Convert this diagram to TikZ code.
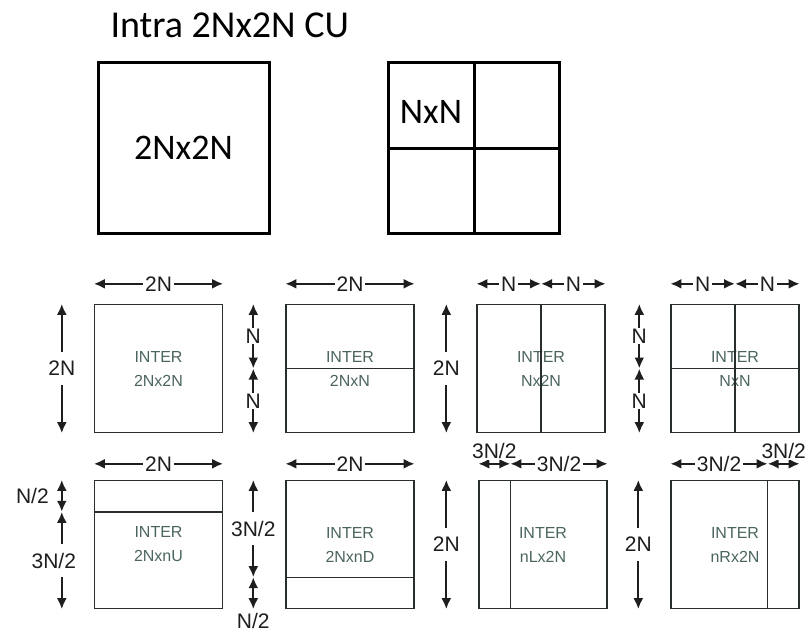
\documentclass[tikz,border=0pt]{standalone}
\usepackage{fontspec}
\setmainfont{Liberation Sans}
\newfontfamily\calibri{Carlito}
\usetikzlibrary{arrows.meta,positioning}
\definecolor{boxgray}{RGB}{40,45,45}
\definecolor{intertxt}{RGB}{75,100,95}
\definecolor{dimtxt}{RGB}{30,30,30}

\begin{document}
\begin{tikzpicture}[x=1pt, y=-1pt,
    intra/.style={draw, line width=3pt, minimum size=171pt, inner sep=0pt, font=\calibri\fontsize{36}{40}\selectfont},
    cu/.style={draw=boxgray, line width=1.4pt, minimum size=128pt, inner sep=0pt, align=center, text=intertxt, font=\fontsize{16}{24}\selectfont},
    split/.style={draw=boxgray, line width=1.4pt},
    dim/.style={draw=dimtxt, {Latex[length=11pt,width=10pt]}-{Latex[length=11pt,width=10pt]}, line width=2.2pt},
    lbl/.style={fill=white, text=dimtxt, inner xsep=2pt, inner ysep=1pt, font=\fontsize{21}{21}\selectfont},
    vlbl/.style={lbl, inner ysep=9pt}]
    \useasboundingbox (0,0) rectangle (811,638);

    % Intra CU
    \node [anchor=base west, font=\calibri\fontsize{38}{42}\selectfont] (title) at (107,37) {Intra 2Nx2N CU};
    \node [intra] (intra1) at (183.5,148) {2Nx2N};
    \node [intra] (intra2) at (474,148) {};
    \draw [line width=3pt] (intra2.north) -- (intra2.south);
    \draw [line width=3pt] (intra2.west) -- (intra2.east);
    \node [font=\calibri\fontsize{36}{40}\selectfont] (nxn) at (431,112) {NxN};

    % Inter CUs
    \node [cu] (b1) at (158.5,368.5) {INTER\\2Nx2N};
    \node [cu] (b2) at (350,368.5) {INTER\\2NxN};
    \node [cu] (b3) at (541,368.5) {INTER\\Nx2N};
    \node [cu] (b4) at (735,368.5) {INTER\\NxN};
    \node [cu] (b5) at (158.5,544.5) {INTER\\2NxnU};
    \node [cu] (b6) at (350,544.5) {INTER\\2NxnD};
    \node [cu] (b7) at (543,544.5) {INTER\\nLx2N};
    \node [cu] (b8) at (735,544.5) {INTER\\nRx2N};

    % Partitions
    \draw [split] (b2.west) -- (b2.east);
    \draw [split] (b3.north) -- (b3.south);
    \draw [split] (b4.west) -- (b4.east);
    \draw [split] (b4.north) -- (b4.south);
    \draw [split] ([yshift=-32pt]b5.north west) -- ([yshift=-32pt]b5.north east);
    \draw [split] ([yshift=32pt]b6.south west) -- ([yshift=32pt]b6.south east);
    \draw [split] ([xshift=32pt]b7.north west) -- ([xshift=32pt]b7.south west);
    \draw [split] ([xshift=-32pt]b8.north east) -- ([xshift=-32pt]b8.south east);

    % Dimensions, first row
    \draw [dim] ([yshift=20pt]b1.north west) -- node[lbl] {2N} ([yshift=20pt]b1.north east);
    \draw [dim] ([xshift=-32pt]b1.north west) -- node[vlbl] {2N} ([xshift=-32pt]b1.south west);
    \draw [dim] ([yshift=20pt]b2.north west) -- node[lbl] {2N} ([yshift=20pt]b2.north east);
    \draw [dim] ([xshift=-32pt]b2.north west) -- node[lbl] {N} ([xshift=-32pt]b2.west);
    \draw [dim] ([xshift=-32pt]b2.west) -- node[lbl] {N} ([xshift=-32pt]b2.south west);
    \draw [dim] ([yshift=20pt]b3.north west) -- node[lbl] {N} ([yshift=20pt]b3.north);
    \draw [dim] ([yshift=20pt]b3.north) -- node[lbl] {N} ([yshift=20pt]b3.north east);
    \draw [dim] ([xshift=-30pt]b3.north west) -- node[vlbl] {2N} ([xshift=-30pt]b3.south west);
    \draw [dim] ([yshift=20pt]b4.north west) -- node[lbl] {N} ([yshift=20pt]b4.north);
    \draw [dim] ([yshift=20pt]b4.north) -- node[lbl] {N} ([yshift=20pt]b4.north east);
    \draw [dim] ([xshift=-31pt]b4.north west) -- node[lbl] {N} ([xshift=-31pt]b4.west);
    \draw [dim] ([xshift=-31pt]b4.west) -- node[lbl] {N} ([xshift=-31pt]b4.south west);

    % Dimensions, second row
    \draw [dim] ([yshift=16pt]b5.north west) -- node[lbl] {2N} ([yshift=16pt]b5.north east);
    \draw [dim] ([xshift=-32pt]b5.north west) -- node[lbl, left=10pt] {N/2} ([xshift=-32pt,yshift=-32pt]b5.north west);
    \draw [dim] ([xshift=-32pt,yshift=-32pt]b5.north west) -- node[vlbl, xshift=-8pt] {3N/2} ([xshift=-32pt]b5.south west);
    \draw [dim] ([yshift=16pt]b6.north west) -- node[lbl] {2N} ([yshift=16pt]b6.north east);
    \draw [dim] ([xshift=-32pt]b6.north west) -- node[vlbl] {3N/2} ([xshift=-32pt,yshift=32pt]b6.south west);
    \draw [dim] ([xshift=-32pt,yshift=32pt]b6.south west) -- node[lbl, at end, below=2pt] {N/2} ([xshift=-32pt]b6.south west);
    \draw [dim] ([yshift=16pt]b7.north west) -- node[lbl, above=3pt] {3N/2} ([xshift=32pt,yshift=16pt]b7.north west);
    \draw [dim] ([xshift=32pt,yshift=16pt]b7.north west) -- node[lbl] {3N/2} ([yshift=16pt]b7.north east);
    \draw [dim] ([xshift=-32pt]b7.north west) -- node[vlbl] {2N} ([xshift=-32pt]b7.south west);
    \draw [dim] ([yshift=16pt]b8.north west) -- node[lbl] {3N/2} ([xshift=-32pt,yshift=16pt]b8.north east);
    \draw [dim] ([xshift=-32pt,yshift=16pt]b8.north east) -- node[lbl, above=3pt] {3N/2} ([yshift=16pt]b8.north east);
    \draw [dim] ([xshift=-32pt]b8.north west) -- node[vlbl] {2N} ([xshift=-32pt]b8.south west);
  \end{tikzpicture}
\end{document}
